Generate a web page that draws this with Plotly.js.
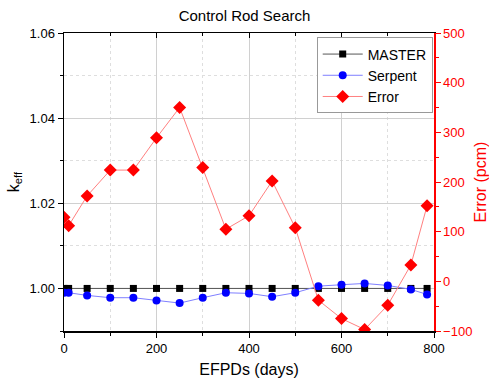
<!DOCTYPE html>
<html><head><meta charset="utf-8">
<script src="https://cdn.plot.ly/plotly-3.0.1.min.js"></script>
<style>html,body{margin:0;padding:0;background:#fff}#c{width:489px;height:381px}</style>
</head><body><div id="c"></div>
<script>
const days = [0, 10, 50, 100, 150, 200, 250, 300, 350, 400, 450, 500, 550, 600, 650, 700, 750, 785];
const master = [1.0000, 1.0000, 1.0000, 1.0000, 1.0000, 1.0000, 1.0000, 1.0000, 1.0000, 1.0000, 1.0000, 1.0000, 1.0000, 1.0000, 1.0000, 1.0000, 1.0000, 1.0000];
const serpent = [0.99899, 0.99899, 0.99836, 0.99782, 0.99782, 0.99719, 0.99656, 0.99782, 0.99899, 0.99883, 0.99805, 0.99899, 1.00054, 1.00087, 1.00117, 1.00070, 0.99977, 0.99859];
const errorPcm = [129, 112, 172, 224, 224, 289, 350, 229, 105, 132, 202, 108, -38, -75, -97, -48, 33, 152];

const font = "Liberation Sans, Arial, sans-serif";
const traces = [
  {x: days, y: master, name: 'MASTER', type: 'scatter', mode: 'lines+markers',
   line: {color: '#555', width: 1}, marker: {symbol: 'square', size: 7, color: '#000'}},
  {x: days, y: serpent, name: 'Serpent', type: 'scatter', mode: 'lines+markers',
   line: {color: '#7f7fff', width: 1}, marker: {symbol: 'circle', size: 8, color: '#0000ff'}},
  {x: days, y: errorPcm, name: 'Error', type: 'scatter', mode: 'lines+markers', yaxis: 'y2',
   line: {color: '#ff8080', width: 1}, marker: {symbol: 'diamond', size: 10, color: '#ff0000'}}
];
const layout = {
  width: 489, height: 381,
  margin: {l: 64, r: 55, t: 33, b: 50},
  paper_bgcolor: '#fff', plot_bgcolor: '#fff',
  font: {family: font, size: 12, color: '#000'},
  title: {text: 'Control Rod Search', x: 0.5, xanchor: 'center', y: 0.958, yanchor: 'middle', font: {size: 15, family: font}},
  showlegend: true,
  legend: {x: 0.683, y: 0.985, xanchor: 'left', yanchor: 'top', bgcolor: '#fff', bordercolor: '#999', borderwidth: 1,
           font: {size: 14, family: font}, tracegroupgap: 0, itemwidth: 40},
  xaxis: {range: [0, 800], dtick: 200, tick0: 0, ticks: 'outside', ticklen: 5, tickcolor: '#000',
          showline: true, linecolor: '#000', linewidth: 1.5, zeroline: false,
          showgrid: true, gridcolor: '#d0d0d0', gridwidth: 1,
          minor: {dtick: 100, ticks: 'outside', ticklen: 3, tickcolor: '#000', showgrid: true, gridcolor: '#dedede', griddash: 'dot'},
          title: {text: 'EFPDs (days)', font: {size: 16, family: font}, standoff: 8},
          tickfont: {size: 13, family: font}},
  xaxis2: {range: [0, 800], overlaying: 'x', side: 'top', dtick: 200, ticks: 'inside', ticklen: 5, tickcolor: '#000',
           showline: true, linecolor: '#000', linewidth: 1.5, showticklabels: false, showgrid: false, zeroline: false,
           minor: {dtick: 100, ticks: 'inside', ticklen: 3, tickcolor: '#000', showgrid: false}},
  yaxis: {range: [0.99, 1.06], dtick: 0.02, tick0: 1.0, tickformat: '.2f', ticks: 'outside', ticklen: 5, tickcolor: '#000',
          showline: true, linecolor: '#000', linewidth: 1.5, zeroline: false,
          showgrid: true, gridcolor: '#d0d0d0', gridwidth: 1,
          minor: {dtick: 0.01, tick0: 1.0, ticks: 'outside', ticklen: 3, tickcolor: '#000', showgrid: true, gridcolor: '#dedede', griddash: 'dot'},
          title: {text: 'k<sub>eff</sub>', font: {size: 16, family: font}, standoff: 6},
          tickfont: {size: 13, family: font}},
  yaxis2: {range: [-100, 500], dtick: 100, overlaying: 'y', side: 'right', ticks: 'outside', ticklen: 5, tickcolor: '#ff0000',
           showline: true, linecolor: '#ff0000', linewidth: 1.5, zeroline: false, showgrid: false,
           minor: {dtick: 50, ticks: 'outside', ticklen: 3, tickcolor: '#ff0000', showgrid: false},
           tickfont: {size: 13, family: font, color: '#ff0000'},
           title: {text: 'Error (pcm)', font: {size: 16, family: font, color: '#ff0000'}, standoff: 4}}
};
const tr2 = traces.slice();
tr2.push({x: [0], y: [null], xaxis: 'x2', showlegend: false, hoverinfo: 'skip', type: 'scatter', mode: 'markers'});
Plotly.newPlot('c', tr2, layout, {displayModeBar: false, staticPlot: true});
</script></body></html>
